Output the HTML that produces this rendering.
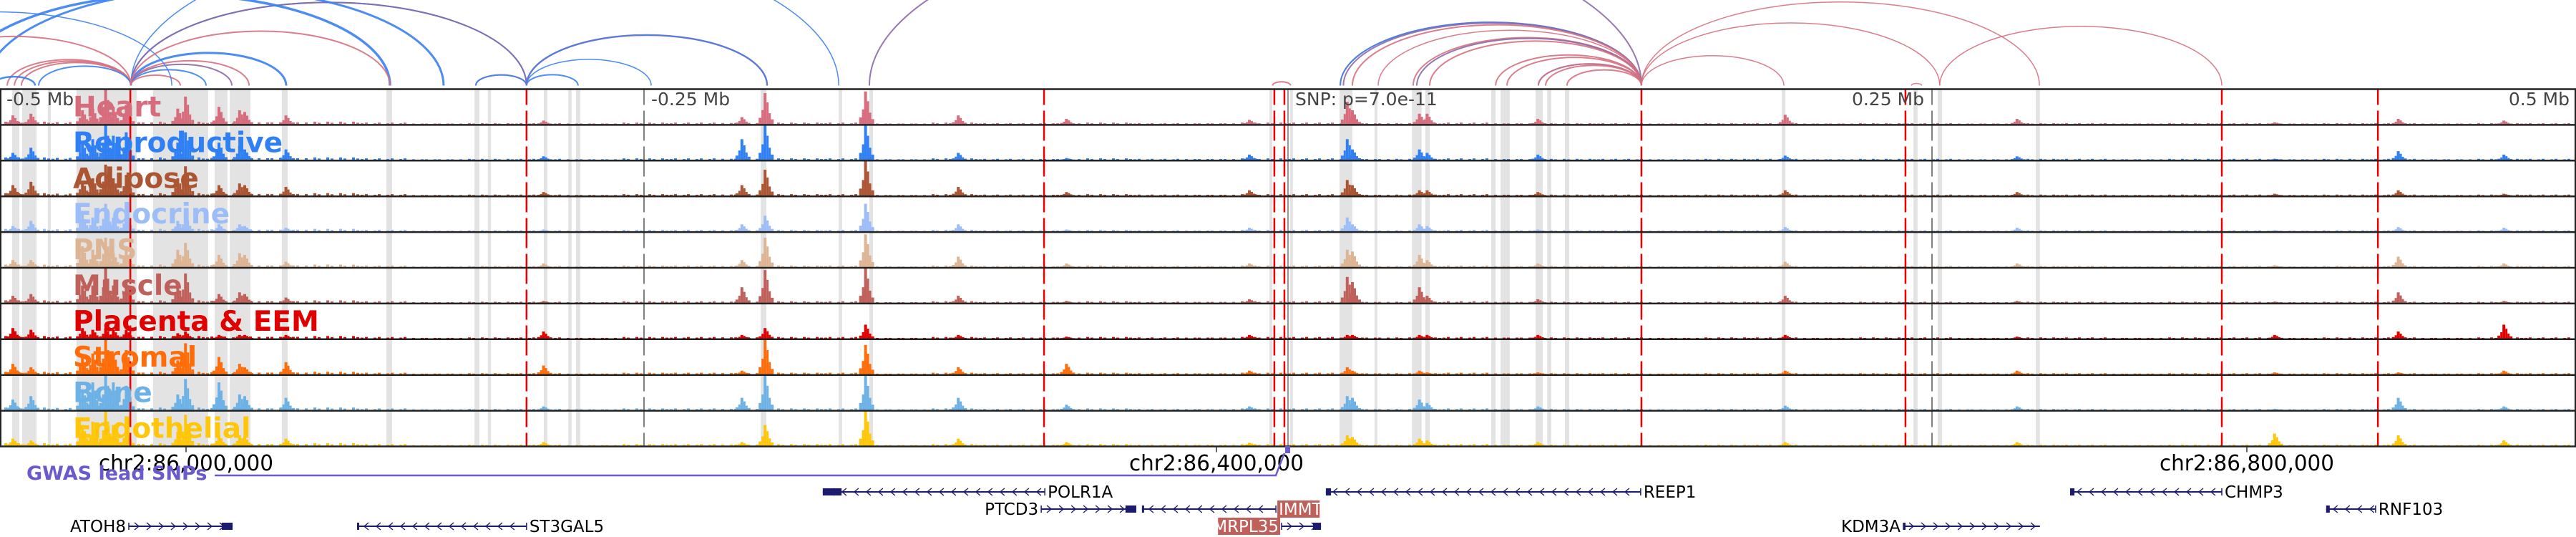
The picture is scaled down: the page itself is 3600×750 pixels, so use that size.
<!DOCTYPE html>
<html><head><meta charset="utf-8">
<style>
html,body{margin:0;padding:0;background:#fff;}
svg{display:block;}
text{font-family:"DejaVu Sans","Liberation Sans",sans-serif;}
</style></head>
<body>
<svg id="chart" width="3600" height="750" viewBox="0 0 3600 750" xmlns="http://www.w3.org/2000/svg">
  <g id="arcs"></g>
  <g id="bands"></g>
  <g id="signals"></g>
  <g id="vlines"></g>
  <g id="frames"></g>
  <g id="labels"></g>
  <g id="axis"></g>
  <g id="gwas"></g>
  <g id="genes"></g>
</svg>
<script>
// ---- data (positions in kb relative to lead SNP at chr2:86,427,778) ----
const trackNames = ["Heart","Reproductive","Adipose","Endocrine","PNS","Muscle","Placenta & EEM","Stromal","Bone","Endothelial"];
const trackColors = ["#d66c7c","#2f80f5","#ac5532","#9cbdf7","#ddb594","#c0605b","#e00000","#ff6d0a","#6cb2e6","#ffc60a"];
const peakKb = [-495,-488,-468,-464,-459,-456,-451,-431,-428,-415,-407,-405,-389,-289,-212,-203,-164,-128,-86,-15,23,25,51,54,97,193,283,383,431,472];
const heartH = [.25,.3,.4,.45,1,.5,.55,.45,.8,.5,.4,.35,.25,.1,.2,.9,.95,.25,.15,.12,.65,.4,.3,.3,.15,.27,.15,.05,.15,.1];
const reproH = [.2,.35,.5,.6,1,.7,.8,.5,.8,.5,.4,.3,.3,.1,.6,1,1,.2,.05,.15,.6,.3,.3,.2,.15,.12,.1,.03,.25,.15];
const adiposeH = [.3,.4,.4,.5,.9,.5,.6,.5,.85,.3,.35,.3,.25,.1,.3,.75,1,.25,.1,.15,.45,.3,.15,.15,.1,.15,.1,.05,.15,.05];
const endoH = [.15,.3,.5,.4,.8,.4,.5,.3,.45,.2,.2,.15,.1,.05,.2,.45,.8,.2,.05,.1,.4,.2,.2,.15,.05,.12,.1,.03,.12,.1];
const pnsH = [.2,.2,.6,.5,.85,.4,.5,.5,.7,.35,.4,.35,.15,.1,.2,.85,.95,.3,.1,.1,.5,.45,.35,.2,.1,.15,.1,.05,.3,.1];
const muscleH = [.2,.25,.5,.5,1,.5,.6,.5,.85,.25,.3,.25,.15,.05,.45,.95,1,.2,.05,.1,.75,.6,.45,.2,.1,.2,.05,.03,.3,.05];
const placentaH = [.3,.25,.3,.25,.3,.25,.25,.15,.2,.1,.1,.1,.1,.2,.1,.3,.4,.1,.05,.1,.1,.1,.1,.1,.1,.1,.05,.1,.2,.4];
const stromalH = [.3,.2,.5,.6,1,.6,.7,.4,.9,.5,.3,.2,.35,.25,.1,1,.85,.2,.3,.1,.2,.1,.1,.05,.05,.1,.1,.05,.05,.1];
const boneH = [.3,.4,.6,.8,1,.8,.7,.45,.9,.8,.45,.4,.35,.1,.35,1,1,.35,.15,.1,.4,.35,.3,.2,.1,.12,.1,.03,.35,.1];
const endothH = [.2,.15,.6,.7,1,.6,.5,.4,.9,.3,.3,.25,.2,.1,.1,.6,1,.2,.1,.08,.3,.25,.2,.15,.1,.1,.1,.35,.3,.15];
const trackHeights = [heartH,reproH,adiposeH,endoH,pnsH,muscleH,placentaH,stromalH,boneH,endothH];
// background level per 20 kb bin (-500..500)
const bgLevel = [.05,.04,.06,.05,.04,.06,.05,.03,.02,.02,.02,.02,.03,.03,.04,.03,.03,.02,.03,.02,.03,.03,.02,.03,.03,.03,.03,.02,.03,.03,.02,.02,.02,.02,.02,.02,.02,.02,.02,.02,.02,.02,.02,.02,.02,.02,.02,.02,.02,.02];
const bandsKb = [[-495.3,-492.5],[-491.4,-485.8],[-481.4,-480.3],[-470.3,-446.9],[-440.6,-419.2],[-416.7,-411.7],[-410.8,-402.8],[-390.6,-388.3],[-350,-347.8],[-315.8,-313.9],[-310.6,-309.4],[-288.9,-287.5],[-279.4,-278.1],[-276.4,-274.7],[-204.7,-202.5],[-174.4,-173.1],[-162.5,-161.1],[-7.2,-6.1],[0.8,1.9],[20,25],[33.6,34.7],[48.1,51.9],[53.3,55],[78.9,80.6],[82.5,86.1],[96.1,98.9],[100.6,102.2],[107.5,109.2],[191.7,193.1],[242.8,244.4],[252.2,253.9],[290.3,291.9]];
const redLinesKb = [-449.4,-295.6,-94.7,-5.3,-1.4,137.2,239.7,362.5,423.1];
const greyLinesKb = [-250,250];
const arcStart = [-449.2,-449.2,-449.2,-449.2,-449.2,-449.2,-449.2,-449.2,-516.7,-569.4,-449.2,-505.6,-497.2,-494.4,-491.7,-485,-502.8,-540,-315.3,-315.3,-295.6,-295.6,-295.6,-295.6,-162.5,-6,20.3,20.3,21.5,25,35,48.6,50,55,80.6,85,97.2,97.2,100,108.3,137.2,137.2,137.2,253,242];
const arcEnd   = [-295.6,-295.6,-388.9,-403.3,-410,-420,-430,-174.4,-348.6,-433.3,-348.6,-327.8,-449.2,-449.2,-449.2,-449.2,-486.4,-449.2,-295.6,-295.6,-275.6,-247.2,-202.2,-202.2,137.2,1,137.2,137.2,137.2,137.2,137.2,137.2,137.2,137.2,137.2,137.2,137.2,137.2,137.2,137.2,192.5,253,291.7,362.5,246];
const arcColor = ["b","p","b","k","p","b","k","b","b","b","k","b","k","k","k","b","b","k","k","b","b","b","k","b","p","k","k","b","p","k","k","k","p","k","k","k","b","k","k","k","k","k","k","k","k"];
const arcWidth = [2,2,3,2,2,2,2,1.5,3.5,1.5,2,3,2,2,2,2,2.5,2,2,2,2,1.5,2.5,2,2,2,2,2,2,2,1.5,2,2,2,2,2,2,2,2,2,1.5,1.5,1.5,1.5,1.5];
const genes = [
 {name:"POLR1A", s:-180.6, e:-94.4, row:0, strand:-1, boxS:-180.6, boxE:-173.3, side:"right", hl:false},
 {name:"REEP1", s:14.7, e:136.9, row:0, strand:-1, boxS:14.7, boxE:16.7, side:"right", hl:false},
 {name:"CHMP3", s:303.6, e:362.5, row:0, strand:-1, boxS:303.6, boxE:305.3, side:"right", hl:false},
 {name:"PTCD3", s:-95.8, e:-58.9, row:1, strand:1, boxS:-63.1, boxE:-58.9, side:"left", hl:false},
 {name:"IMMT", s:-56.7, e:-4.7, row:1, strand:-1, boxS:-56.7, boxE:-56.2, side:"right", hl:true},
 {name:"RNF103", s:403, e:422.2, row:1, strand:-1, boxS:403, boxE:404.4, side:"right", hl:false},
 {name:"ATOH8", s:-450, e:-409.7, row:2, strand:1, boxS:-413.9, boxE:-409.7, side:"left", hl:false},
 {name:"ST3GAL5", s:-361.4, e:-295.6, row:2, strand:-1, boxS:-361.4, boxE:-360.8, side:"right", hl:false},
 {name:"MRPL35", s:-2.5, e:12.8, row:2, strand:1, boxS:9.7, boxE:12.8, side:"left", hl:true},
 {name:"KDM3A", s:238.9, e:291.9, row:2, strand:1, boxS:238.9, boxE:239.4, side:"left", hl:false}
];
const axisTicksKb = [-427.778, -27.778, 372.222];
const axisTickLabels = ["chr2:86,000,000","chr2:86,400,000","chr2:86,800,000"];
const snpKb = 0;

// ---- scales ----
const NS="http://www.w3.org/2000/svg";
const X = kb => 1800 + kb*3.6;
const TOP = 124.5, TH = 49.9, NT = 10, BOT = TOP + TH*NT;
const ARC_BASE = 119.5;
function mk(tag, attrs, parent){const el=document.createElementNS(NS,tag);for(const k in attrs)el.setAttribute(k,attrs[k]);parent.appendChild(el);return el;}
const colMap = {b:"#3a80f2", p:"#8a6aaa", k:"#d6707f"};

// arcs
const gA = document.getElementById("arcs");
for(let i=0;i<arcStart.length;i++){
  const x1=X(arcStart[i]), x2=X(arcEnd[i]);
  const rx=Math.abs(x2-x1)/2, ry=rx*0.42;
  const p=mk("path",{d:`M${Math.min(x1,x2)} ${ARC_BASE} A${rx} ${ry} 0 0 1 ${Math.max(x1,x2)} ${ARC_BASE}`,fill:"none",stroke:colMap[arcColor[i]],"stroke-width":arcWidth[i],opacity:0.9},gA);
  
  
}

// bands
const gB=document.getElementById("bands");
bandsKb.forEach(b=>{
  const r=mk("rect",{x:X(b[0]),y:TOP,width:Math.max(2,X(b[1])-X(b[0])),height:BOT-TOP,fill:"#e3e3e3"},gB);
  
  
});

// signals
const gS=document.getElementById("signals");
for(let t=0;t<NT;t++){
  const g=mk("g",{},gS);
  
  
  const base=TOP+TH*(t+1)-1.2, col=trackColors[t];
  for(let i=0;i<bgLevel.length;i++){
    const x0=X(-500+i*20);
    for(let k=0;k<12;k++){
      if((i+k)%3===0) continue;
      const h=bgLevel[i]*TH*(k%3===1?1.3:0.7);
      const r=mk("rect",{x:x0+k*6,y:base-h,width:4,height:h,fill:col},g);
      
      
    }
  }
  const H=trackHeights[t];
  for(let i=0;i<peakKb.length;i++){
    const cx=X(peakKb[i]); const h=H[i]*(TH-2);
    const parts=[[-9,0.2,4],[-5,0.45,3],[-2,1,4],[2,0.7,3],[5,0.35,3],[8,0.15,4]];
    parts.forEach(pp=>{
      const hh=h*pp[1];
      const r=mk("rect",{x:cx+pp[0],y:base-hh,width:pp[2],height:hh,fill:col},g);
      
      
    });
  }
}

// vertical lines
const gV=document.getElementById("vlines");
redLinesKb.forEach(k=>{
  const l=mk("line",{x1:X(k),x2:X(k),y1:TOP,y2:BOT,stroke:"#ee0000","stroke-width":2.5,"stroke-dasharray":"22 8 20 0"},gV);
  
  
});
greyLinesKb.forEach(k=>{
  const l=mk("line",{x1:X(k),x2:X(k),y1:TOP,y2:BOT,stroke:"#555","stroke-width":1.5,"stroke-dasharray":"22 8 20 0"},gV);
  
  
});
{const l=mk("line",{x1:X(snpKb),x2:X(snpKb),y1:TOP,y2:BOT,stroke:"#555","stroke-width":1.2},gV);
 
 }

// frames
const gF=document.getElementById("frames");
for(let t=0;t<=NT;t++){
  const l=mk("line",{x1:0,x2:3600,y1:TOP+TH*t,y2:TOP+TH*t,stroke:"#222","stroke-width":2.5},gF);
  
  
}
{const l1=mk("line",{x1:1,x2:1,y1:TOP,y2:BOT,stroke:"#222","stroke-width":2},gF);
 
 
 const l2=mk("line",{x1:3599,x2:3599,y1:TOP,y2:BOT,stroke:"#222","stroke-width":2},gF);
 
 }

// labels
const gL=document.getElementById("labels");
trackNames.forEach((n,t)=>{
  const tx=mk("text",{x:102,y:TOP+TH*t+38,fill:trackColors[t],"font-size":39,"font-weight":"bold"},gL);
  tx.textContent=n;
  
  
});
const mb=[["-0.5 Mb",9,"start"],["-0.25 Mb",910,"start"],["0.25 Mb",2689,"end"],["0.5 Mb",3591,"end"],["SNP: p=7.0e-11",1810,"start"]];
mb.forEach(m=>{
  const tx=mk("text",{x:m[1],y:147,fill:"#444","font-size":25,"text-anchor":m[2]},gL);
  tx.textContent=m[0];
  
  
});

// axis
const gX=document.getElementById("axis");
axisTicksKb.forEach((k,i)=>{
  const l=mk("line",{x1:X(k),x2:X(k),y1:BOT,y2:BOT+8,stroke:"#333","stroke-width":1.5},gX);
  
  
  const tx=mk("text",{x:X(k),y:657,"font-size":30,"text-anchor":"middle",fill:"#000",textLength:244,lengthAdjust:"spacingAndGlyphs"},gX);
  tx.textContent=axisTickLabels[i];
  
  
});

// gwas
const gG=document.getElementById("gwas");
{const p=mk("path",{d:`M300 664 L${X(snpKb)-17} 664 L${X(snpKb)-5} 633`,fill:"none",stroke:"#6a5acd","stroke-width":2.5},gG);
 
 
 const r=mk("rect",{x:X(snpKb)-4,y:623,width:7,height:10,fill:"#6a5acd"},gG);
 
 
 const tx=mk("text",{x:37,y:670,"font-size":27,"font-weight":"bold",fill:"#6a5acd"},gG);
 tx.textContent="GWAS lead SNPs";
 
 }

// genes
const gN=document.getElementById("genes");
const rowY=[687,711,735];
const NAVY="#1c1c6e";
genes.forEach(gn=>{
  const g=mk("g",{},gN);
  
  
  const y=rowY[gn.row], x1=X(gn.s), x2=X(gn.e);
  mk("line",{x1:x1,x2:x2,y1:y,y2:y,stroke:NAVY,"stroke-width":2},g);
  for(let x=x1+12;x<x2-6;x+=17){
    const d=gn.strand>0?`M${x-4} ${y-5} L${x+2} ${y} L${x-4} ${y+5}`:`M${x+4} ${y-5} L${x-2} ${y} L${x+4} ${y+5}`;
    mk("path",{d:d,fill:"none",stroke:NAVY,"stroke-width":1.4},g);
  }
  mk("rect",{x:X(gn.boxS),y:y-5,width:Math.max(3,X(gn.boxE)-X(gn.boxS)),height:10,fill:NAVY},g);
  const endX = gn.strand<0 ? x2 : x1;
  mk("line",{x1:endX,x2:endX,y1:y-5,y2:y+5,stroke:NAVY,"stroke-width":1.5},g);
  const fs=23;
  const lx = gn.side==="right" ? x2+3 : x1-3;
  if(gn.hl){
    const w = gn.name.length*fs*0.6+4;
    const rx = gn.side==="right" ? lx-1 : lx-w+1;
    mk("rect",{x:rx,y:y-12,width:w,height:24,fill:"#c0605b"},g);
  }
  const tx=mk("text",{x:gn.side==="right"?lx+1:lx-1,y:y+8,"font-size":fs,fill:gn.hl?"#fff":"#000","text-anchor":gn.side==="right"?"start":"end"},g);
  tx.textContent=gn.name;
});
</script>
</body></html>
